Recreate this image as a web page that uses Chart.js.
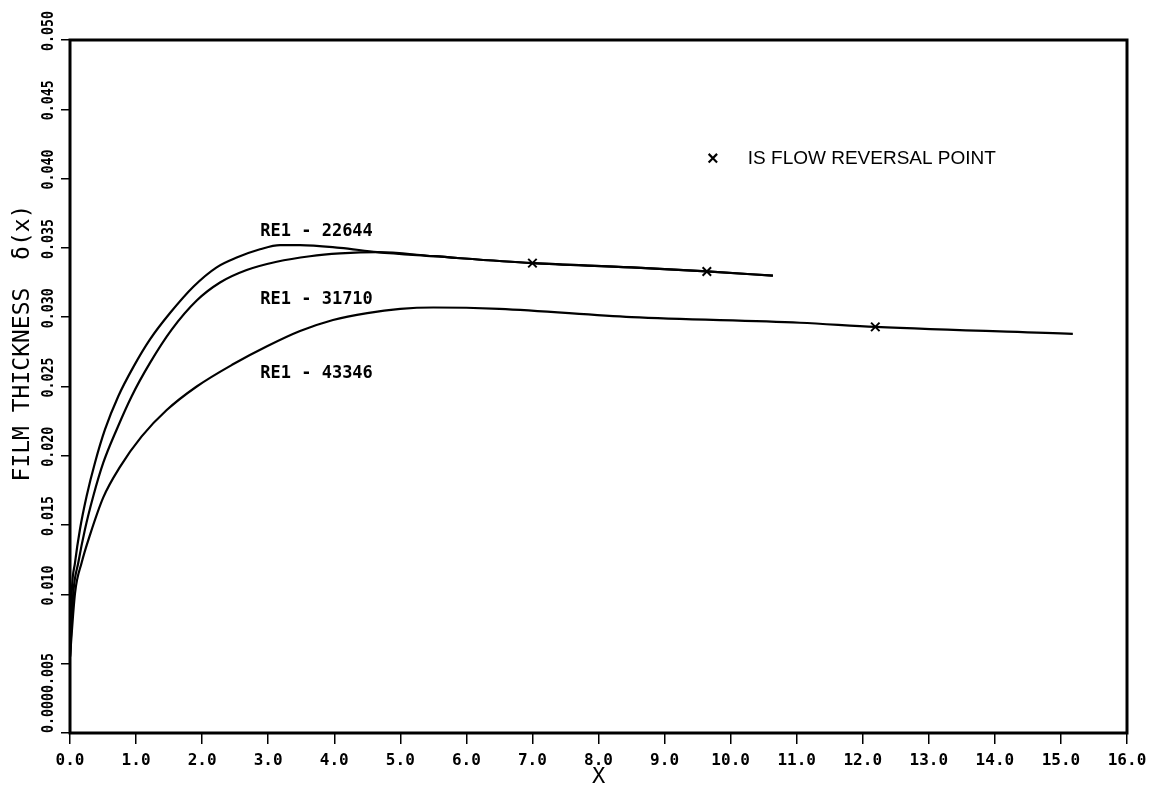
<!DOCTYPE html>
<html>
<head>
<meta charset="utf-8">
<script src="https://cdn.jsdelivr.net/npm/chart.js@4.4.1/dist/chart.umd.min.js"></script>
<style>
  body { margin: 0; background: #fff; }
  canvas { display: block; }
</style>
</head>
<body>
<canvas id="myChart" width="1155" height="790"></canvas>
<script>
const ctx = document.getElementById("myChart").getContext("2d");

// film thickness curves
const x22644 = [0, 0.026, 0.076, 0.151, 0.252, 0.378, 0.53, 0.731, 0.958, 1.211, 1.514, 1.867, 2.22, 2.523, 2.876, 3.179, 3.482, 4.088, 4.65, 5.5, 7.0, 8.5, 9.64, 10.64];
const d22644 = [0.0055, 0.0101, 0.0123, 0.0147, 0.0171, 0.0195, 0.0219, 0.0243, 0.0264, 0.0284, 0.0303, 0.0322, 0.0336, 0.0343, 0.0349, 0.0352, 0.0352, 0.0350, 0.0347, 0.0344, 0.0339, 0.0336, 0.0333, 0.0330];

const x31710 = [0, 0.05, 0.126, 0.227, 0.353, 0.504, 0.707, 0.934, 1.211, 1.539, 1.918, 2.271, 2.674, 3.129, 3.633, 4.088, 4.65, 5.5, 7.0, 8.5, 9.64, 10.64];
const d31710 = [0.0055, 0.0101, 0.0123, 0.0147, 0.0171, 0.0195, 0.0219, 0.0243, 0.0267, 0.0291, 0.0312, 0.0325, 0.0334, 0.0340, 0.0344, 0.0346, 0.0347, 0.0344, 0.0339, 0.0336, 0.0333, 0.0330];

const x43346 = [0, 0.076, 0.177, 0.303, 0.504, 0.757, 1.085, 1.464, 1.918, 2.467, 2.982, 3.482, 3.981, 4.5, 5.0, 5.5, 6.5, 8.5, 11.05, 12.19, 15.18];
const d43346 = [0.0055, 0.0101, 0.0123, 0.0143, 0.0170, 0.0192, 0.0214, 0.0233, 0.0250, 0.0266, 0.0279, 0.0290, 0.0298, 0.0303, 0.0306, 0.0307, 0.0306, 0.0300, 0.0296, 0.0293, 0.0288];

// flow reversal points (x marks)
const reversalX = [7.0, 9.64, 12.19];
const reversalY = [0.0339, 0.0333, 0.0293];

const curveLabels = ["RE1 - 22644", "RE1 - 31710", "RE1 - 43346"];
const xTicks = [0, 1, 2, 3, 4, 5, 6, 7, 8, 9, 10, 11, 12, 13, 14, 15, 16];
const yTicks = [0, 0.005, 0.01, 0.015, 0.02, 0.025, 0.03, 0.035, 0.04, 0.045, 0.05];

const toPoints = (xs, ys) => xs.map((x, i) => ({ x: x, y: ys[i] }));

const curve = (xs, ys) => ({
  data: toPoints(xs, ys),
  borderColor: "#000",
  borderWidth: 2.2,
  pointRadius: 0,
  fill: false,
  cubicInterpolationMode: "monotone",
});

// frame, sideways y labels and the text notes
const annotate = {
  id: "annotate",
  afterDatasetsDraw(chart) {
    const { ctx, chartArea: a, scales } = chart;
    const xs = scales.x;
    const ys = scales.y;
    ctx.save();
    ctx.strokeStyle = "#000";
    ctx.lineWidth = 3;
    ctx.strokeRect(a.left, a.top, a.right - a.left, a.bottom - a.top);

    ctx.fillStyle = "#000";
    ctx.textBaseline = "middle";
    ctx.font = "bold 16px 'DejaVu Sans Mono'";
    yTicks.forEach((v) => {
      ctx.save();
      // 0.000 and 0.005 run together at the bottom, as on the original plot
      let py = ys.getPixelForValue(v) - 9;
      if (v === 0) py = a.bottom;
      if (v === 0.005) py = a.bottom - 40;
      ctx.translate(49, py);
      ctx.rotate(-Math.PI / 2);
      ctx.scale(0.83, 1);
      ctx.textAlign = v <= 0.005 ? "left" : "center";
      ctx.fillText(v.toFixed(3), 0, 0);
      ctx.restore();
    });

    ctx.save();
    ctx.translate(23, 343);
    ctx.rotate(-Math.PI / 2);
    ctx.font = "23px 'DejaVu Sans Mono'";
    ctx.textAlign = "center";
    ctx.fillText("FILM THICKNESS  \u03b4(x)", 0, 0);
    ctx.restore();

    const labelY = [0.0362, 0.0313, 0.0259];
    ctx.font = "bold 17px 'DejaVu Sans Mono'";
    ctx.textAlign = "left";
    curveLabels.forEach((t, i) => {
      ctx.fillText(t, xs.getPixelForValue(2.88), ys.getPixelForValue(labelY[i]));
    });

    ctx.font = "bold 20px 'Liberation Sans'";
    ctx.textAlign = "center";
    ctx.fillText("\u00d7", xs.getPixelForValue(9.73), ys.getPixelForValue(0.0414));
    ctx.font = "19px 'Liberation Sans'";
    ctx.textAlign = "left";
    ctx.fillText("IS FLOW REVERSAL POINT", xs.getPixelForValue(10.26), ys.getPixelForValue(0.0414));
    ctx.restore();
  },
};

const myChart = new Chart(ctx, {
  type: "line",
  data: {
    datasets: [
      curve(x22644, d22644),
      curve(x31710, d31710),
      curve(x43346, d43346),
      {
        data: toPoints(reversalX, reversalY),
        showLine: false,
        pointStyle: "crossRot",
        pointRadius: 6,
        pointBorderWidth: 2,
        borderColor: "#000",
        backgroundColor: "#000",
      },
    ],
  },
  options: {
    responsive: false,
    animation: false,
    layout: { padding: { top: 40, right: 28, left: 0, bottom: 0 } },
    plugins: { legend: { display: false }, tooltip: { enabled: false } },
    scales: {
      x: {
        type: "linear",
        min: 0,
        max: 16,
        afterBuildTicks: (s) => { s.ticks = xTicks.map((v) => ({ value: v })); },
        afterFit: (s) => { s.height = 57; },
        border: { display: false },
        grid: { drawOnChartArea: false, color: "#000", lineWidth: 1.5, tickLength: 11 },
        ticks: {
          color: "#000",
          padding: 7,
          maxRotation: 0,
          autoSkip: false,
          font: { family: "'DejaVu Sans Mono'", size: 16, weight: "bold" },
          callback: (v) => v.toFixed(1),
        },
        title: {
          display: true,
          text: "X",
          color: "#000",
          padding: { top: 0, bottom: 0 },
          font: { family: "'DejaVu Sans Mono'", size: 22 },
        },
      },
      y: {
        min: 0,
        max: 0.05,
        afterBuildTicks: (s) => { s.ticks = yTicks.map((v) => ({ value: v })); },
        afterFit: (s) => { s.width = 70; },
        border: { display: false },
        grid: { drawOnChartArea: false, color: "#000", lineWidth: 1.5, tickLength: 9 },
        ticks: { display: false },
      },
    },
  },
  plugins: [annotate],
});
</script>
</body>
</html>
